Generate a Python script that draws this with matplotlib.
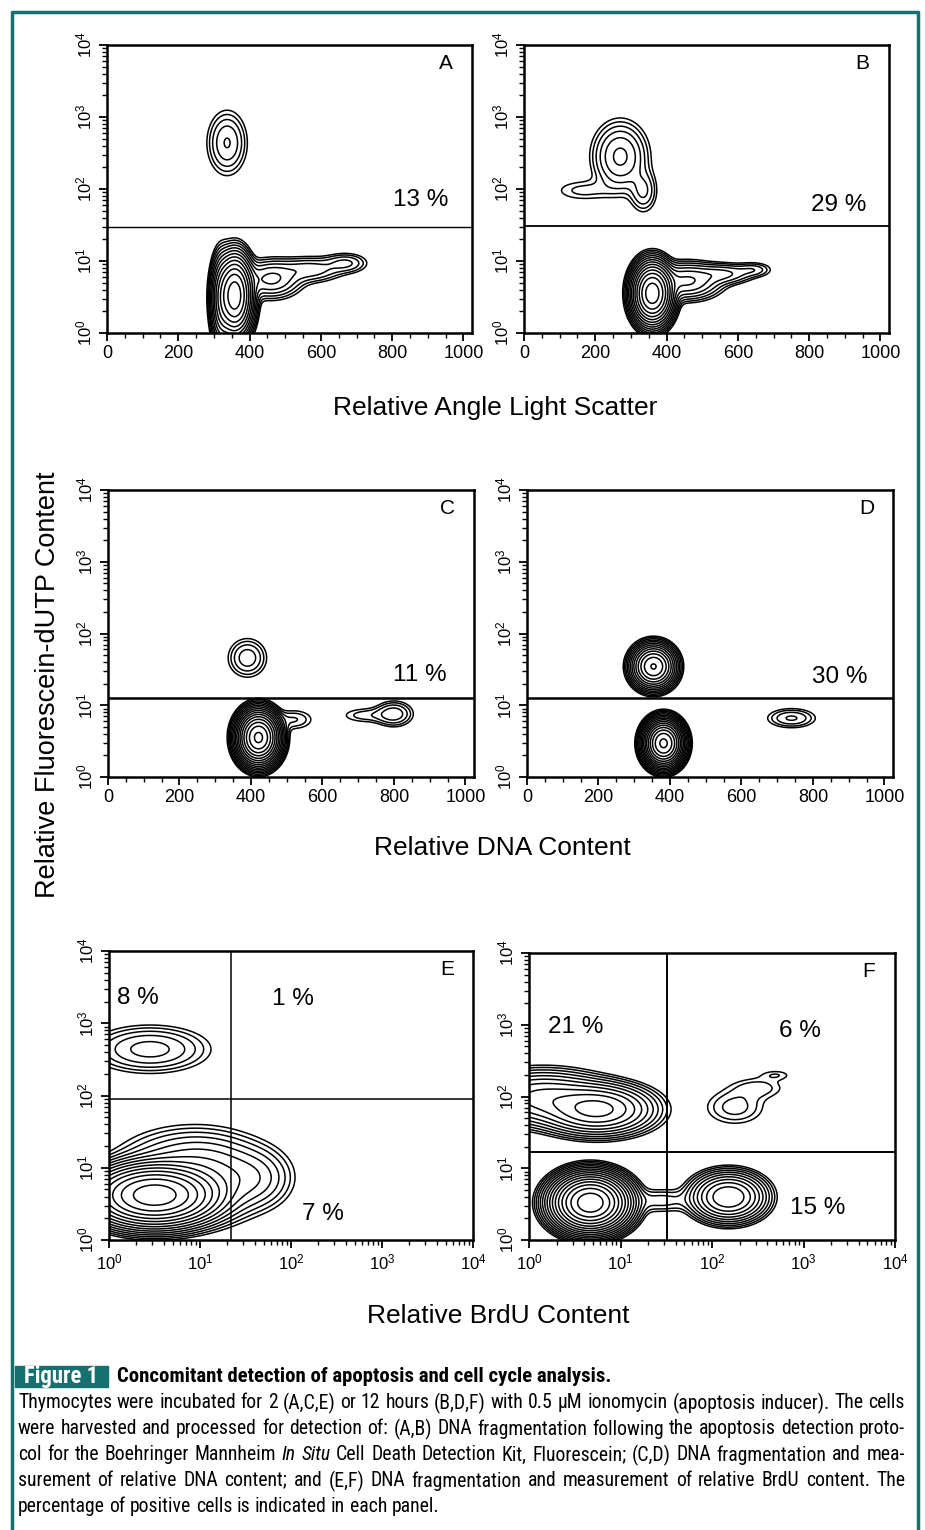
import numpy as np
import matplotlib
matplotlib.use("Agg")
import matplotlib.pyplot as plt
from matplotlib import font_manager
from matplotlib.lines import Line2D
from matplotlib.patches import Rectangle
from matplotlib.ticker import FixedLocator, LogLocator, MultipleLocator, NullFormatter

plt.rcParams["font.family"] = ["Liberation Sans", "DejaVu Sans"]
plt.rcParams["mathtext.fontset"] = "custom"
plt.rcParams["mathtext.rm"] = "Liberation Sans"
plt.rcParams["mathtext.it"] = "Liberation Sans:italic"
plt.rcParams["mathtext.bf"] = "Liberation Sans:bold"

W, H = 925, 1530
TEAL = "#16706e"

# ---- data ----
# cell populations: (x centre, log10 y centre, x spread, log10 y spread, peak density)
# x is channel number for A-D and log10 for E-F
pops_A = [(337, 2.64, 30, 0.24, 6), (358, 0.52, 22, 0.24, 260), (320, 0.45, 14, 0.3, 30),
          (460, 0.75, 45, 0.14, 10), (570, 0.88, 50, 0.10, 5), (670, 0.97, 35, 0.08, 4)]
pops_B = [(270, 2.45, 40, 0.25, 10), (335, 1.97, 22, 0.17, 4), (165, 1.98, 55, 0.10, 1.8),
          (360, 0.55, 24, 0.18, 400), (455, 0.72, 50, 0.13, 15), (560, 0.82, 45, 0.08, 6),
          (645, 0.88, 30, 0.06, 3)]
pops_C = [(390, 1.66, 30, 0.15, 5), (421, 0.55, 24, 0.15, 800), (520, 0.80, 35, 0.09, 2.5),
          (800, 0.88, 30, 0.10, 5), (720, 0.86, 45, 0.07, 2.0)]
pops_D = [(354, 1.54, 26, 0.13, 200), (382, 0.47, 22, 0.13, 800), (740, 0.82, 40, 0.08, 4)]
pops_E = [(0.45, 2.64, 0.34, 0.17, 7), (0.50, 0.62, 0.30, 0.18, 400),
          (0.90, 1.05, 0.40, 0.25, 10), (1.60, 0.85, 0.22, 0.22, 6), (1.15, 0.80, 0.30, 0.28, 8)]
pops_F = [(0.75, 1.82, 0.28, 0.16, 60), (0.15, 1.98, 0.35, 0.18, 25),
          (2.25, 1.85, 0.20, 0.15, 3), (2.50, 2.12, 0.20, 0.10, 2.0), (2.70, 2.30, 0.12, 0.05, 1.4),
          (0.67, 0.52, 0.17, 0.16, 1000), (2.18, 0.60, 0.18, 0.15, 80), (1.45, 0.55, 0.20, 0.10, 3)]

panel_names = ["A", "B", "C", "D", "E", "F"]
panel_pops = [pops_A, pops_B, pops_C, pops_D, pops_E, pops_F]
gate_h = [30, 31, 12.6, 12.6, 89, 17]
gate_v = [None, None, None, None, 22, 32]

pct_A = [("13 %", 879, 71)]
pct_B = [("29 %", 882, 60)]
pct_C = [("11 %", 871, 26)]
pct_D = [("30 %", 874, 25)]
pct_E = [("8 %", 2.1, 2240), ("1 %", 105, 2190), ("7 %", 224, 2.3)]
pct_F = [("21 %", 3.2, 933), ("6 %", 912, 813), ("15 %", 1413, 2.8)]
panel_pcts = [pct_A, pct_B, pct_C, pct_D, pct_E, pct_F]

lin_ticks = [0, 200, 400, 600, 800, 1000]
log_ticks = [1, 10, 100, 1000, 10000]
log_labels = [r"$10^{0}$", r"$10^{1}$", r"$10^{2}$", r"$10^{3}$", r"$10^{4}$"]

x_titles = ["Relative Angle Light Scatter", "Relative DNA Content", "Relative BrdU Content"]
y_title = "Relative Fluorescein-dUTP Content"

fig_tag = "Figure 1"
cap_title = "Concomitant detection of apoptosis and cell cycle analysis."
cap_lines = [
    "Thymocytes were incubated for 2 (A,C,E) or 12 hours (B,D,F) with 0.5 \u00b5M ionomycin (apoptosis inducer). The cells",
    "were harvested and processed for detection of: (A,B) DNA fragmentation following the apoptosis detection proto-",
    "col for the Boehringer Mannheim In Situ Cell Death Detection Kit, Fluorescein; (C,D) DNA fragmentation and mea-",
    "surement of relative DNA content; and (E,F) DNA fragmentation and measurement of relative BrdU content. The",
    "percentage of positive cells is indicated in each panel.",
]
ITALIC = {"In", "Situ"}

# ---- layout (pixels) ----
rects = [(107, 45, 472, 333), (524, 45, 889, 333),
         (108, 490, 474, 777), (527, 490, 893, 777),
         (109, 951, 473, 1240), (529, 953, 895, 1240)]
gate_lw = [1.0, 1.3, 1.8, 1.8, 1.1, 1.4]
LEVELS = 1.55 ** np.arange(17)


def density(pops, xs, ys):
    X, Y = np.meshgrid(xs, ys)
    Z = np.zeros_like(X)
    for cx, cy, sx, sy, w in pops:
        Z += w * np.exp(-0.5 * (((X - cx) / sx) ** 2 + ((Y - cy) / sy) ** 2))
    return X, Y, Z


def pick_narrow():
    have = font_manager.fontManager.ttflist
    names = {f.name for f in have}
    for n in ["Liberation Sans Narrow", "Roboto Condensed", "Open Sans Condensed",
              "Noto Sans Condensed"]:
        if n in names:
            return dict(family=n)
    for fam in ["Roboto", "Noto Sans", "Open Sans", "DejaVu Sans"]:
        if any(f.name == fam and "condensed" in str(f.stretch) for f in have):
            return dict(family=fam, stretch="condensed")
    return dict(family="Liberation Sans")


fig = plt.figure(figsize=(W / 100, H / 100), dpi=100)

for i, name in enumerate(panel_names):
    l, t, r, b = rects[i]
    ax = fig.add_axes([l / W, 1 - b / H, (r - l) / W, (b - t) / H])
    logx = i >= 4
    ys = np.linspace(-1, 4.5, 500)
    if logx:
        X, Y, Z = density(panel_pops[i], np.linspace(-1, 4.5, 500), ys)
        X = 10 ** X
        ax.set_xscale("log")
        ax.set_xlim(1, 1e4)
        ax.xaxis.set_major_locator(FixedLocator(log_ticks))
        ax.set_xticklabels(log_labels, fontsize=12)
        ax.xaxis.set_minor_locator(LogLocator(base=10, subs=np.arange(2, 10)))
        ax.xaxis.set_minor_formatter(NullFormatter())
    else:
        X, Y, Z = density(panel_pops[i], np.linspace(-100, 1150, 500), ys)
        ax.set_xlim(0, 1024)
        ax.xaxis.set_major_locator(FixedLocator(lin_ticks))
        ax.set_xticklabels([str(v) for v in lin_ticks], fontsize=13)
        ax.xaxis.set_minor_locator(MultipleLocator(50))
    ax.contour(X, 10 ** Y, Z, levels=LEVELS, colors="k", linewidths=1.1)

    ax.set_yscale("log")
    ax.set_ylim(1, 1e4)
    ax.yaxis.set_major_locator(FixedLocator(log_ticks))
    ax.set_yticklabels(log_labels, fontsize=12, rotation=90, va="center")
    ax.yaxis.set_minor_locator(LogLocator(base=10, subs=np.arange(2, 10)))
    ax.yaxis.set_minor_formatter(NullFormatter())

    ax.tick_params(which="major", direction="out", length=6, width=1.3, pad=3)
    ax.tick_params(which="minor", direction="out", length=3.5, width=1.0)
    for s in ax.spines.values():
        s.set_linewidth(1.8)

    ax.axhline(gate_h[i], color="k", lw=gate_lw[i])
    if gate_v[i] is not None:
        ax.axvline(gate_v[i], color="k", lw=gate_lw[i])
    for txt, px, py in panel_pcts[i]:
        ax.text(px, py, txt, fontsize=17.5, ha="center", va="center")
    ax.text(0.928, 0.935, name, transform=ax.transAxes, fontsize=15, ha="center", va="center")

# axis titles
fig.text(495 / W, 1 - 408 / H, x_titles[0], fontsize=19, ha="center", va="center")
fig.text(502 / W, 1 - 848 / H, x_titles[1], fontsize=19, ha="center", va="center")
fig.text(498 / W, 1 - 1316 / H, x_titles[2], fontsize=19, ha="center", va="center")
fig.text(48 / W, 1 - 685 / H, y_title, fontsize=19.5, rotation=90, ha="center", va="center")

# teal frame
fig.add_artist(Line2D([12 / W, 12 / W, 918 / W, 918 / W], [0, 1 - 12 / H, 1 - 12 / H, 0],
                      color=TEAL, lw=2.5, transform=fig.transFigure))

# caption
cf = pick_narrow()
renderer = fig.canvas.get_renderer()
fig.add_artist(Rectangle((15 / W, 1 - 1387 / H), 93 / W, 21 / H, color=TEAL,
                         transform=fig.transFigure))

LINE_L, LINE_R = 18, 905
probe = fig.text(0, 0, cap_lines[0], fontsize=12, **cf)
size = 12 * (LINE_R - LINE_L) / probe.get_window_extent(renderer).width * 0.995
probe.remove()

fig.text(61 / W, 1 - 1376 / H, fig_tag, fontsize=size * 1.15, color="white",
         ha="center", va="center", weight="bold", **cf)
fig.text(117 / W, 1 - 1377 / H, cap_title, fontsize=size * 1.05, weight="bold",
         ha="left", va="center", **cf)

sp1 = fig.text(0, 0, "x x", fontsize=size, **cf)
sp2 = fig.text(0, 0, "xx", fontsize=size, **cf)
space_w = sp1.get_window_extent(renderer).width - sp2.get_window_extent(renderer).width
sp1.remove()
sp2.remove()

for k, line in enumerate(cap_lines):
    y = 1 - (1403 + 26 * k) / H
    words = line.split(" ")
    arts = [fig.text(0, y, w, fontsize=size, style="italic" if w in ITALIC else "normal",
                     ha="left", va="center", **cf) for w in words]
    widths = [a.get_window_extent(renderer).width for a in arts]
    if k < len(cap_lines) - 1:
        gap = (LINE_R - LINE_L - sum(widths)) / (len(words) - 1)
    else:
        gap = space_w
    x = LINE_L
    for a, wd in zip(arts, widths):
        a.set_x(x / W)
        x += wd + gap

fig.savefig("out.png", dpi=100)
